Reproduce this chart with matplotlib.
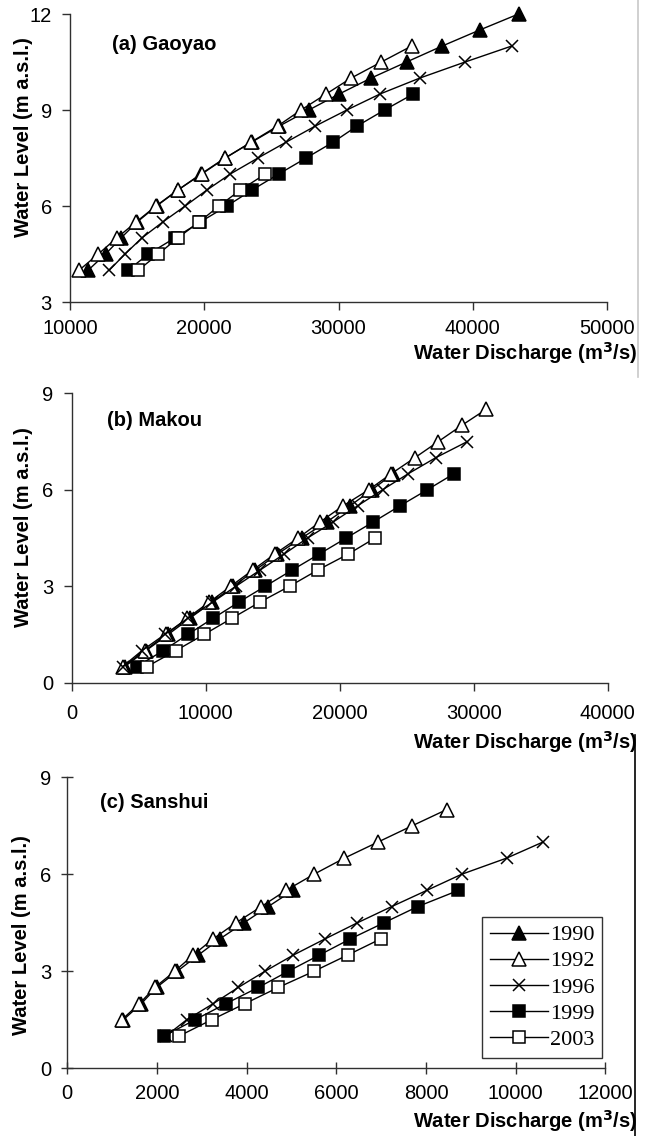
import matplotlib
matplotlib.use("Agg")
import matplotlib.pyplot as plt
from matplotlib.lines import Line2D

# ---------------- data ----------------
years = ["1990", "1992", "1996", "1999", "2003"]

# (a) Gaoyao
a_lev_1990 = [4.0, 4.5, 5.0, 5.5, 6.0, 6.5, 7.0, 7.5, 8.0, 8.5, 9.0, 9.5, 10.0, 10.5, 11.0, 11.5, 12.0]
a_q_1990 = [11370, 12650, 13800, 15000, 16450, 18050, 19750, 21550, 23550, 25600, 27790, 30050, 32440, 35070, 37730, 40520, 43410]
a_lev_1992 = [4.0, 4.5, 5.0, 5.5, 6.0, 6.5, 7.0, 7.5, 8.0, 8.5, 9.0, 9.5, 10.0, 10.5, 11.0]
a_q_1992 = [10700, 12110, 13480, 14930, 16400, 18030, 19820, 21570, 23510, 25470, 27210, 29080, 30950, 33190, 35450]
a_lev_1996 = [4.0, 4.5, 5.0, 5.5, 6.0, 6.5, 7.0, 7.5, 8.0, 8.5, 9.0, 9.5, 10.0, 10.5, 11.0]
a_q_1996 = [12940, 14100, 15350, 16910, 18580, 20200, 21940, 24000, 26120, 28280, 30620, 33090, 36070, 39430, 42910]
a_lev_1999 = [4.0, 4.5, 5.0, 5.5, 6.0, 6.5, 7.0, 7.5, 8.0, 8.5, 9.0, 9.5]
a_q_1999 = [14350, 15840, 17800, 19700, 21690, 23560, 25550, 27590, 29620, 31390, 33430, 35570]
a_lev_2003 = [4.0, 4.5, 5.0, 5.5, 6.0, 6.5, 7.0]
a_q_2003 = [15100, 16590, 18020, 19620, 21100, 22690, 24550]

# (b) Makou
b_lev_1990 = [0.5, 1.0, 1.5, 2.0, 2.5, 3.0, 3.5, 4.0, 4.5, 5.0, 5.5, 6.0, 6.5]
b_q_1990 = [3950, 5550, 7200, 8800, 10450, 12050, 13700, 15350, 17160, 19030, 20770, 22400, 24000]
b_lev_1992 = [0.5, 1.0, 1.5, 2.0, 2.5, 3.0, 3.5, 4.0, 4.5, 5.0, 5.5, 6.0, 6.5, 7.0, 7.5, 8.0, 8.5]
b_q_1992 = [3850, 5470, 7060, 8600, 10250, 11870, 13500, 15150, 16900, 18540, 20250, 22170, 23850, 25620, 27360, 29100, 30920]
b_lev_1996 = [0.5, 1.0, 1.5, 2.0, 2.5, 3.0, 3.5, 4.0, 4.5, 5.0, 5.5, 6.0, 6.5, 7.0, 7.5]
b_q_1996 = [3800, 5250, 6950, 8650, 10500, 12250, 14050, 15850, 17600, 19520, 21330, 23200, 25120, 27180, 29530]
b_lev_1999 = [0.5, 1.0, 1.5, 2.0, 2.5, 3.0, 3.5, 4.0, 4.5, 5.0, 5.5, 6.0, 6.5]
b_q_1999 = [4850, 6840, 8660, 10540, 12450, 14450, 16440, 18470, 20490, 22510, 24500, 26540, 28530]
b_lev_2003 = [0.5, 1.0, 1.5, 2.0, 2.5, 3.0, 3.5, 4.0, 4.5]
b_q_2003 = [5620, 7780, 9880, 11940, 14020, 16260, 18350, 20640, 22640]

# (c) Sanshui
c_lev_1990 = [1.5, 2.0, 2.5, 3.0, 3.5, 4.0, 4.5, 5.0, 5.5]
c_q_1990 = [1250, 1650, 1990, 2450, 2920, 3400, 3940, 4480, 5030]
c_lev_1992 = [1.5, 2.0, 2.5, 3.0, 3.5, 4.0, 4.5, 5.0, 5.5, 6.0, 6.5, 7.0, 7.5, 8.0]
c_q_1992 = [1213, 1610, 1950, 2395, 2805, 3250, 3762, 4325, 4876, 5500, 6180, 6934, 7692, 8459]
c_lev_1996 = [1.0, 1.5, 2.0, 2.5, 3.0, 3.5, 4.0, 4.5, 5.0, 5.5, 6.0, 6.5, 7.0]
c_q_1996 = [2201, 2662, 3255, 3813, 4408, 5039, 5746, 6470, 7233, 8014, 8794, 9798, 10613]
c_lev_1999 = [1.0, 1.5, 2.0, 2.5, 3.0, 3.5, 4.0, 4.5, 5.0, 5.5]
c_q_1999 = [2163, 2847, 3538, 4259, 4928, 5619, 6311, 7062, 7813, 8719]
c_lev_2003 = [1.0, 1.5, 2.0, 2.5, 3.0, 3.5, 4.0]
c_q_2003 = [2497, 3219, 3962, 4705, 5500, 6250, 6988]

a_xticks = [10000, 20000, 30000, 40000, 50000]
a_yticks = [3, 6, 9, 12]
b_xticks = [0, 10000, 20000, 30000, 40000]
b_yticks = [0, 3, 6, 9]
c_xticks = [0, 2000, 4000, 6000, 8000, 10000, 12000]
c_yticks = [0, 3, 6, 9]

titles = ["(a) Gaoyao", "(b) Makou", "(c) Sanshui"]
xlabel = "Water Discharge (m$^\\mathbf{3}$/s)"
ylabel = "Water Level (m a.s.l.)"

# ---------------- style ----------------
plt.rcParams['font.family'] = ['Liberation Sans', 'DejaVu Sans']
W, H = 651, 1136
fig = plt.figure(figsize=(W / 100, H / 100), dpi=100)

styles = {
    "1990": dict(marker='^', mfc='black', mec='black'),
    "1992": dict(marker='^', mfc='white', mec='black'),
    "1996": dict(marker='x', mfc='black', mec='black'),
    "1999": dict(marker='s', mfc='black', mec='black'),
    "2003": dict(marker='s', mfc='white', mec='black'),
}
msize = {"1990": 10, "1992": 10, "1996": 9, "1999": 8.5, "2003": 8.5}


def px_axes(l, r, t, b):
    return fig.add_axes([l / W, 1 - b / H, (r - l) / W, (b - t) / H])


panels = [
    dict(box=(70, 607, 14, 302), xlim=(10000, 50000), ylim=(3, 12), xt=a_xticks, yt=a_yticks,
         series=[(a_q_1990, a_lev_1990), (a_q_1992, a_lev_1992), (a_q_1996, a_lev_1996),
                 (a_q_1999, a_lev_1999), (a_q_2003, a_lev_2003)],
         tdir='out', xpad=6, title_pos=(112, 45), xl_top=340, ylab_x=33, ylab_c=(30 + 245) / 2),
    dict(box=(71.7, 607.7, 393.3, 682.7), xlim=(0, 40000), ylim=(0, 9), xt=b_xticks, yt=b_yticks,
         series=[(b_q_1990, b_lev_1990), (b_q_1992, b_lev_1992), (b_q_1996, b_lev_1996),
                 (b_q_1999, b_lev_1999), (b_q_2003, b_lev_2003)],
         tdir='out', xpad=9, title_pos=(107, 420), xl_top=729, ylab_x=33, ylab_c=527),
    dict(box=(67.3, 605.3, 777.3, 1068.3), xlim=(0, 12000), ylim=(0, 9), xt=c_xticks, yt=c_yticks,
         series=[(c_q_1990, c_lev_1990), (c_q_1992, c_lev_1992), (c_q_1996, c_lev_1996),
                 (c_q_1999, c_lev_1999), (c_q_2003, c_lev_2003)],
         tdir='inout', xpad=7, title_pos=(100, 803), xl_top=1108, ylab_x=31, ylab_c=935),
]

for i, p in enumerate(panels):
    l, r, t, b = p['box']
    ax = px_axes(l, r, t, b)
    for yr, (q, lev) in zip(years, p['series']):
        st = styles[yr]
        ax.plot(q, lev, color='black', lw=1.0, marker=st['marker'], ms=msize[yr],
                mfc=st['mfc'], mec=st['mec'], mew=1.1, label=yr, clip_on=False)
    ax.set_xlim(*p['xlim'])
    ax.set_ylim(*p['ylim'])
    ax.set_xticks(p['xt'])
    ax.set_yticks(p['yt'])
    ax.set_xticklabels([str(v) for v in p['xt']])
    ax.set_yticklabels([str(v) for v in p['yt']])
    for s in ['top', 'right']:
        ax.spines[s].set_visible(False)
    for s in ['left', 'bottom']:
        ax.spines[s].set_linewidth(1.0)
        ax.spines[s].set_color('#303030')
    ax.tick_params(axis='both', direction=p['tdir'], length=6 if p['tdir'] == 'out' else 9,
                   width=1.0, colors='#303030', labelcolor='black', labelsize=14.5)
    ax.tick_params(axis='x', pad=p['xpad'])
    ax.tick_params(axis='y', pad=7)
    w = r - l
    h = b - t
    # panel title
    tx, ty = p['title_pos']
    ax.text((tx - l) / w, (b - ty) / h, titles[i], transform=ax.transAxes,
            fontsize=14.5, fontweight='bold', ha='left', va='center')
    # axis labels
    ax.set_xlabel(xlabel, fontsize=14.5, fontweight='bold', ha='right', va='top')
    ax.xaxis.set_label_coords((637 - l) / w, (b - p['xl_top']) / h)
    ax.set_ylabel(ylabel, fontsize=14.5, fontweight='bold')
    ax.yaxis.set_label_coords((p['ylab_x'] - l) / w, (b - p['ylab_c']) / h)
    if i == 2:
        leg = ax.legend(loc='upper right', bbox_to_anchor=((602 - l) / w, (b - 917) / h),
                        prop={'family': 'Liberation Serif', 'size': 16}, frameon=True,
                        fancybox=False, edgecolor='black', handlelength=2.6,
                        handletextpad=0.1, labelspacing=0.25, borderpad=0.35,
                        borderaxespad=0)
        leg.get_frame().set_linewidth(1.0)

# decorative border lines seen at the right of the original image
fig.add_artist(Line2D([638 / W, 638 / W], [1 - 377 / H, 1.0], color='#c8c8c8', lw=1.2))
fig.add_artist(Line2D([635 / W, 635 / W], [0.0, 1 - 735 / H], color='black', lw=1.2))

fig.savefig("out.png", dpi=100)
